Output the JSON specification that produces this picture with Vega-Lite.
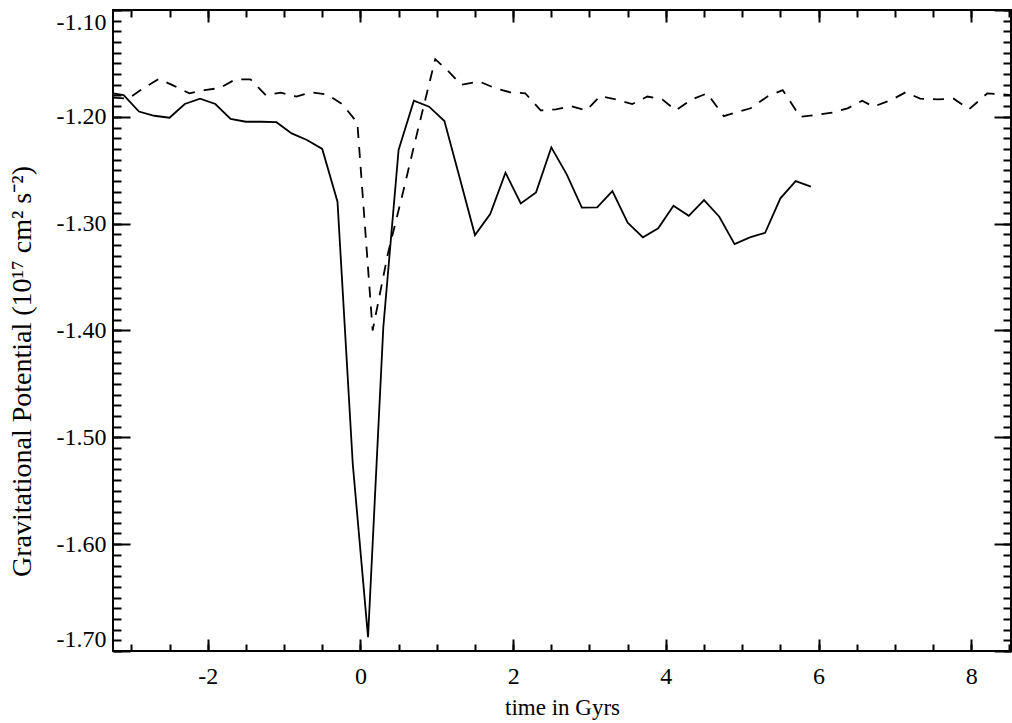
{
  "$schema": "https://vega.github.io/schema/vega-lite/v6.json",
  "width": 898,
  "height": 641,
  "autosize": {"type": "none"},
  "padding": {"left": 113, "top": 10, "right": 1, "bottom": 72},
  "background": "white",
  "datasets": {
    "solid": [
      {"t": -3.24, "phi": -1.178}, {"t": -3.1, "phi": -1.1796}, {"t": -2.9, "phi": -1.195}, {"t": -2.7, "phi": -1.199},
      {"t": -2.5, "phi": -1.2008}, {"t": -2.3, "phi": -1.188}, {"t": -2.1, "phi": -1.183}, {"t": -1.9, "phi": -1.188},
      {"t": -1.7, "phi": -1.202}, {"t": -1.5, "phi": -1.2046}, {"t": -1.3, "phi": -1.2046}, {"t": -1.1, "phi": -1.205},
      {"t": -0.9, "phi": -1.2155}, {"t": -0.7, "phi": -1.2217}, {"t": -0.5, "phi": -1.23}, {"t": -0.3, "phi": -1.2795},
      {"t": -0.1, "phi": -1.525}, {"t": 0.1, "phi": -1.687}, {"t": 0.3, "phi": -1.397}, {"t": 0.5, "phi": -1.231},
      {"t": 0.7, "phi": -1.1849}, {"t": 0.9, "phi": -1.1905}, {"t": 1.1, "phi": -1.2039}, {"t": 1.3, "phi": -1.257},
      {"t": 1.5, "phi": -1.3107}, {"t": 1.7, "phi": -1.291}, {"t": 1.9, "phi": -1.2523}, {"t": 2.1, "phi": -1.281},
      {"t": 2.3, "phi": -1.2707}, {"t": 2.5, "phi": -1.2286}, {"t": 2.7, "phi": -1.2536}, {"t": 2.9, "phi": -1.285},
      {"t": 3.1, "phi": -1.2847}, {"t": 3.3, "phi": -1.2695}, {"t": 3.5, "phi": -1.2991}, {"t": 3.7, "phi": -1.3128},
      {"t": 3.9, "phi": -1.3044}, {"t": 4.1, "phi": -1.2832}, {"t": 4.3, "phi": -1.2926}, {"t": 4.5, "phi": -1.2779},
      {"t": 4.7, "phi": -1.2935}, {"t": 4.9, "phi": -1.3191}, {"t": 5.1, "phi": -1.3128}, {"t": 5.3, "phi": -1.3085},
      {"t": 5.5, "phi": -1.2763}, {"t": 5.7, "phi": -1.2601}, {"t": 5.9, "phi": -1.2654}
    ],
    "dashed": [
      {"t": -3.24, "phi": -1.182}, {"t": -3.04, "phi": -1.183}, {"t": -2.84, "phi": -1.173}, {"t": -2.64, "phi": -1.1646},
      {"t": -2.44, "phi": -1.171}, {"t": -2.24, "phi": -1.178}, {"t": -2.04, "phi": -1.175}, {"t": -1.84, "phi": -1.173},
      {"t": -1.64, "phi": -1.165}, {"t": -1.44, "phi": -1.165}, {"t": -1.24, "phi": -1.1796}, {"t": -1.04, "phi": -1.1774},
      {"t": -0.84, "phi": -1.181}, {"t": -0.64, "phi": -1.177}, {"t": -0.44, "phi": -1.179}, {"t": -0.24, "phi": -1.188},
      {"t": -0.04, "phi": -1.2055}, {"t": 0.16, "phi": -1.4}, {"t": 0.36, "phi": -1.328}, {"t": 0.56, "phi": -1.27},
      {"t": 0.76, "phi": -1.21}, {"t": 0.98, "phi": -1.146}, {"t": 1.16, "phi": -1.158}, {"t": 1.32, "phi": -1.17},
      {"t": 1.56, "phi": -1.167}, {"t": 1.76, "phi": -1.173}, {"t": 1.96, "phi": -1.177}, {"t": 2.16, "phi": -1.178},
      {"t": 2.36, "phi": -1.194}, {"t": 2.56, "phi": -1.193}, {"t": 2.76, "phi": -1.19}, {"t": 2.96, "phi": -1.194},
      {"t": 3.14, "phi": -1.1805}, {"t": 3.36, "phi": -1.184}, {"t": 3.56, "phi": -1.188}, {"t": 3.76, "phi": -1.181},
      {"t": 3.96, "phi": -1.184}, {"t": 4.13, "phi": -1.194}, {"t": 4.33, "phi": -1.184}, {"t": 4.54, "phi": -1.178},
      {"t": 4.76, "phi": -1.1993}, {"t": 4.96, "phi": -1.195}, {"t": 5.11, "phi": -1.192}, {"t": 5.33, "phi": -1.181},
      {"t": 5.53, "phi": -1.175}, {"t": 5.76, "phi": -1.2}, {"t": 5.98, "phi": -1.198}, {"t": 6.18, "phi": -1.196},
      {"t": 6.38, "phi": -1.192}, {"t": 6.57, "phi": -1.185}, {"t": 6.72, "phi": -1.1905}, {"t": 6.96, "phi": -1.184},
      {"t": 7.14, "phi": -1.177}, {"t": 7.33, "phi": -1.183}, {"t": 7.56, "phi": -1.1836}, {"t": 7.77, "phi": -1.183},
      {"t": 7.97, "phi": -1.193}, {"t": 8.21, "phi": -1.178}, {"t": 8.36, "phi": -1.1787}, {"t": 8.52, "phi": -1.1796}
    ]
  },
  "layer": [
    {
      "data": {"name": "solid"},
      "mark": {"type": "line", "color": "black", "strokeWidth": 1.8, "clip": true},
      "encoding": {
        "x": {"field": "t", "type": "quantitative", "scale": {"domain": [-3.24, 8.52], "nice": false, "zero": false},
          "axis": {"orient": "bottom", "values": [-2, 0, 2, 4, 6, 8], "tickSize": -12, "labelPadding": 25,
            "labelExpr": "replace(datum.label, '\u2212', '-')", "title": "time in Gyrs", "titleFontSize": 23, "titleY": 56, "titleBaseline": "middle"}},
        "y": {"field": "phi", "type": "quantitative", "scale": {"domain": [-1.7, -1.1], "nice": false, "zero": false},
          "axis": {"orient": "left", "values": [-1.7, -1.6, -1.5, -1.4, -1.3, -1.2, -1.1], "tickSize": -17, "labelPadding": 24,
            "format": ".2f", "labelExpr": "replace(datum.label, '\u2212', '-')", "labelFlush": true,
            "title": "Gravitational Potential (10¹⁷ cm² s⁻²)", "titleFontSize": 28, "titleX": -91, "titleY": 361, "titleBaseline": "middle", "titleAngle": 270}}
      }
    },
    {
      "data": {"name": "dashed"},
      "mark": {"type": "line", "color": "black", "strokeWidth": 1.8, "strokeDash": [11, 9], "clip": true},
      "encoding": {
        "x": {"field": "t", "type": "quantitative", "scale": {"domain": [-3.24, 8.52], "nice": false, "zero": false},
          "axis": {"orient": "bottom", "values": [-3, -2.5, -2, -1.5, -1, -0.5, 0, 0.5, 1, 1.5, 2, 2.5, 3, 3.5, 4, 4.5, 5, 5.5, 6, 6.5, 7, 7.5, 8, 8.5],
            "tickSize": -7, "labels": false, "title": null}},
        "y": {"field": "phi", "type": "quantitative", "scale": {"domain": [-1.7, -1.1], "nice": false, "zero": false},
          "axis": {"orient": "left", "values": [-1.7,-1.69,-1.68,-1.67,-1.66,-1.65,-1.64,-1.63,-1.62,-1.61,-1.6,-1.59,-1.58,-1.57,-1.56,-1.55,-1.54,-1.53,-1.52,-1.51,-1.5,-1.49,-1.48,-1.47,-1.46,-1.45,-1.44,-1.43,-1.42,-1.41,-1.4,-1.39,-1.38,-1.37,-1.36,-1.35,-1.34,-1.33,-1.32,-1.31,-1.3,-1.29,-1.28,-1.27,-1.26,-1.25,-1.24,-1.23,-1.22,-1.21,-1.2,-1.19,-1.18,-1.17,-1.16,-1.15,-1.14,-1.13,-1.12,-1.11,-1.1],
            "tickSize": -8, "labels": false, "title": null}}
      }
    },
    {
      "data": {"name": "solid"},
      "mark": {"type": "line", "color": "black", "strokeOpacity": 0, "clip": true},
      "encoding": {
        "x": {"field": "t", "type": "quantitative", "scale": {"domain": [-3.24, 8.52], "nice": false, "zero": false},
          "axis": {"orient": "top", "values": [-2, 0, 2, 4, 6, 8], "tickSize": -12, "labels": false, "title": null}},
        "y": {"field": "phi", "type": "quantitative", "scale": {"domain": [-1.7, -1.1], "nice": false, "zero": false},
          "axis": {"orient": "right", "values": [-1.7, -1.6, -1.5, -1.4, -1.3, -1.2, -1.1], "tickSize": -17, "labels": false, "title": null}}
      }
    },
    {
      "data": {"name": "solid"},
      "mark": {"type": "line", "color": "black", "strokeOpacity": 0, "clip": true},
      "encoding": {
        "x": {"field": "t", "type": "quantitative", "scale": {"domain": [-3.24, 8.52], "nice": false, "zero": false},
          "axis": {"orient": "top", "values": [-3, -2.5, -2, -1.5, -1, -0.5, 0, 0.5, 1, 1.5, 2, 2.5, 3, 3.5, 4, 4.5, 5, 5.5, 6, 6.5, 7, 7.5, 8, 8.5],
            "tickSize": -7, "labels": false, "title": null}},
        "y": {"field": "phi", "type": "quantitative", "scale": {"domain": [-1.7, -1.1], "nice": false, "zero": false},
          "axis": {"orient": "right", "values": [-1.7,-1.69,-1.68,-1.67,-1.66,-1.65,-1.64,-1.63,-1.62,-1.61,-1.6,-1.59,-1.58,-1.57,-1.56,-1.55,-1.54,-1.53,-1.52,-1.51,-1.5,-1.49,-1.48,-1.47,-1.46,-1.45,-1.44,-1.43,-1.42,-1.41,-1.4,-1.39,-1.38,-1.37,-1.36,-1.35,-1.34,-1.33,-1.32,-1.31,-1.3,-1.29,-1.28,-1.27,-1.26,-1.25,-1.24,-1.23,-1.22,-1.21,-1.2,-1.19,-1.18,-1.17,-1.16,-1.15,-1.14,-1.13,-1.12,-1.11,-1.1],
            "tickSize": -8, "labels": false, "title": null}}
      }
    }
  ],
  "resolve": {"axis": {"x": "independent", "y": "independent"}},
  "config": {
    "view": {"stroke": "black", "strokeWidth": 2},
    "axis": {
      "labelFont": "Liberation Serif", "titleFont": "Liberation Serif",
      "labelFontSize": 24, "titleFontSize": 24, "labelColor": "black", "titleColor": "black",
      "titleFontWeight": "normal", "tickColor": "black", "tickWidth": 2, "grid": false, "domain": false,
      "labelOverlap": false
    }
  }
}
